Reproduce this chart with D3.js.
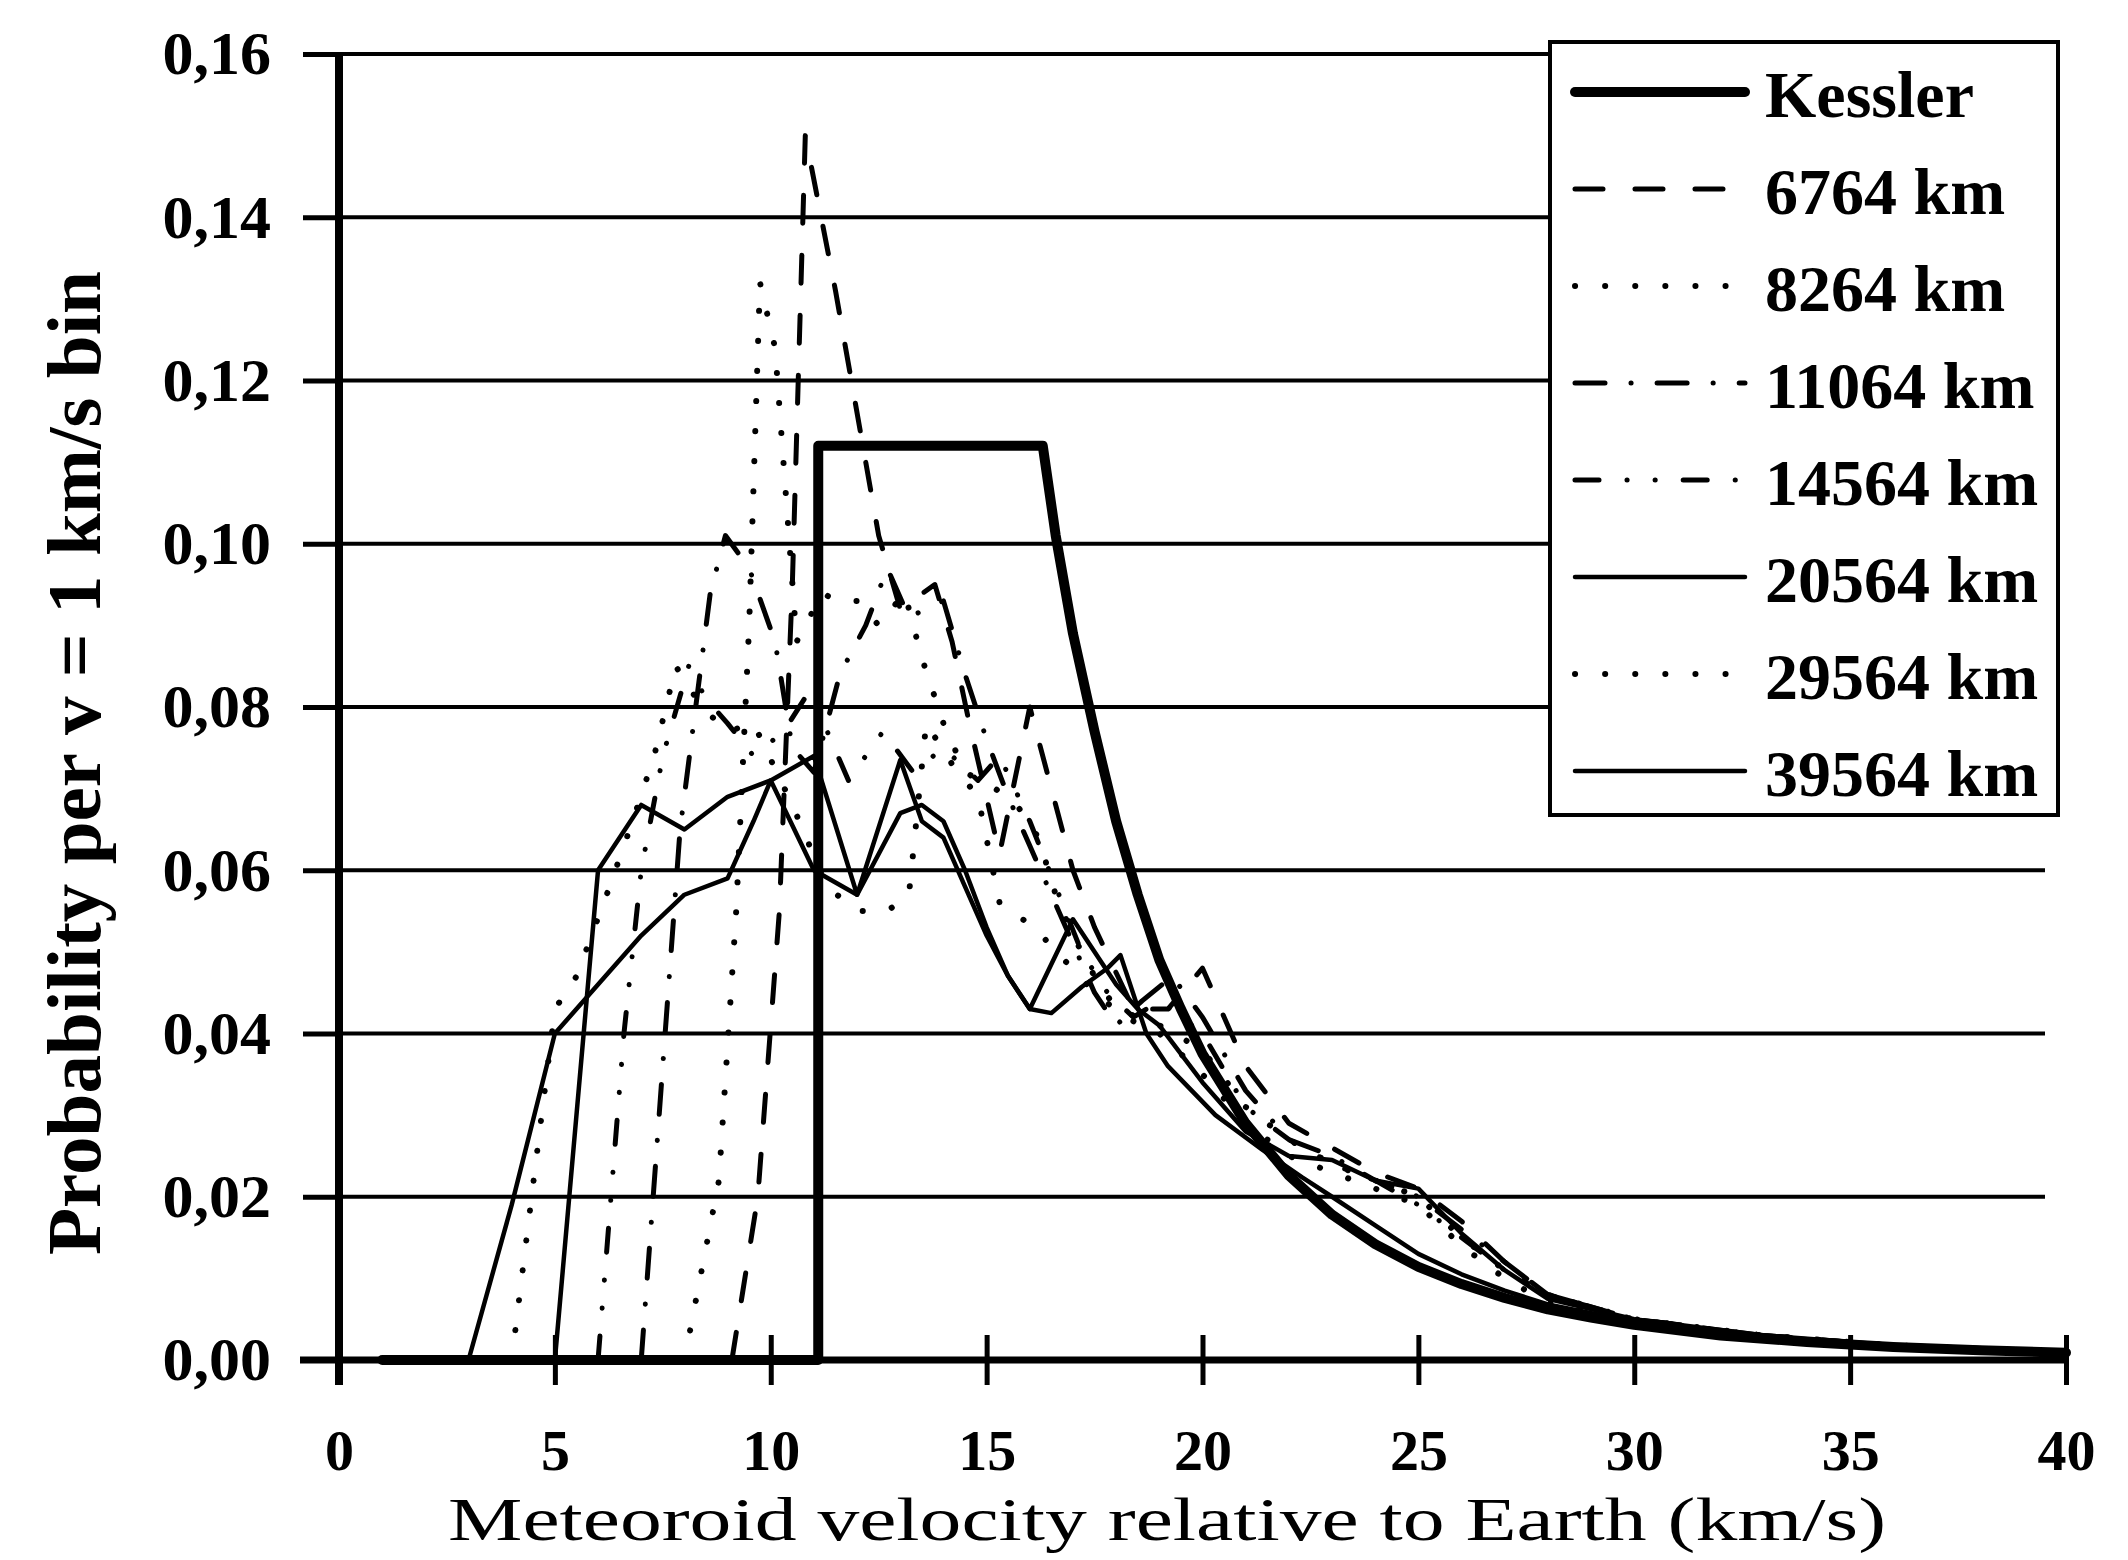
<!DOCTYPE html>
<html>
<head>
<meta charset="utf-8">
<script src="https://cdn.jsdelivr.net/npm/d3@7"></script>
<style>
  body { margin: 0; background: #fff; }
  svg { display: block; }
  text { font-family: "Liberation Serif", "Times New Roman", serif; fill: #000; }
</style>
</head>
<body>
<svg id="chart" width="2128" height="1560"></svg>
<script>
// axis ticks
const xTicks = [0, 5, 10, 15, 20, 25, 30, 35, 40];
const yTicks = [0, 0.02, 0.04, 0.06, 0.08, 0.10, 0.12, 0.14, 0.16];
const yTickLabels = ["0,00", "0,02", "0,04", "0,06", "0,08", "0,10", "0,12", "0,14", "0,16"];
const xTitle = "Meteoroid velocity relative to Earth (km/s)";
const yTitle = "Probability per v = 1 km/s bin";

// series (velocity km/s, probability)
const kesslerV = [1, 11.1, 11.1, 16.3, 16.6, 17, 17.5, 18, 18.5, 19, 19.5, 20, 21, 22, 23, 24, 25, 26, 27, 28, 29, 30, 32, 34, 36, 38, 40];
const kesslerP = [0, 0, 0.112, 0.112, 0.101, 0.089, 0.077, 0.066, 0.057, 0.049, 0.043, 0.0375, 0.029, 0.0226, 0.0178, 0.0142, 0.0114, 0.0093, 0.0076, 0.0062, 0.0052, 0.0043, 0.003, 0.0022, 0.0016, 0.0012, 0.0009];

const v6764 = [9.1, 9.7, 10.2, 10.5, 10.8, 11.5, 12.5, 13.0, 13.8, 14.2, 14.6, 15.3, 16.0, 17.0, 17.5, 18.4, 19.2, 20.0, 21.0, 22.0, 23.0, 24.0, 25.0, 26.0, 27.0, 28.0, 30.0, 33.0, 36.0, 40.0];
const p6764 = [0, 0.020, 0.055, 0.095, 0.150, 0.131, 0.101, 0.092, 0.095, 0.088, 0.078, 0.062, 0.080, 0.060, 0.053, 0.043, 0.043, 0.048, 0.036, 0.029, 0.026, 0.023, 0.021, 0.017, 0.012, 0.008, 0.005, 0.003, 0.0018, 0.001];

const v8264 = [8.0, 8.8, 9.2, 9.5, 9.75, 10.1, 10.6, 11.2, 11.5, 12.0, 12.5, 13.1, 13.5, 14.0, 14.5, 15.2, 15.7, 16.2, 16.6, 17.0, 17.5, 18.0, 19.0, 20.0, 21.0, 22.0, 23.0, 24.0, 25.0, 26.0, 27.0, 28.0, 30.0, 33.0, 36.0, 40.0];
const p8264 = [0, 0.022, 0.055, 0.090, 0.132, 0.124, 0.088, 0.094, 0.093, 0.093, 0.090, 0.094, 0.086, 0.078, 0.072, 0.070, 0.068, 0.064, 0.057, 0.052, 0.047, 0.043, 0.041, 0.038, 0.031, 0.027, 0.024, 0.022, 0.020, 0.015, 0.011, 0.008, 0.005, 0.003, 0.0018, 0.001];

const v11064 = [7.0, 7.9, 8.6, 8.95, 9.5, 10.1, 10.5, 11.0, 11.6, 12.2, 12.7, 13.2, 14.0, 14.5, 15.0, 15.5, 16.0, 16.5, 17.0, 17.5, 18.0, 18.6, 19.3, 20.0, 21.0, 22.0, 23.0, 24.0, 25.0, 26.0, 27.0, 28.0, 30.0, 33.0, 36.0, 40.0];
const p11064 = [0, 0.065, 0.094, 0.101, 0.097, 0.088, 0.075, 0.072, 0.084, 0.090, 0.097, 0.091, 0.093, 0.084, 0.076, 0.069, 0.063, 0.057, 0.051, 0.045, 0.041, 0.044, 0.047, 0.042, 0.033, 0.027, 0.025, 0.022, 0.020, 0.016, 0.012, 0.008, 0.005, 0.003, 0.0018, 0.001];

const v14564 = [6.0, 6.6, 7.0, 7.5, 8.1, 8.5, 9.0, 9.6, 10.3, 10.9, 11.8, 12.6, 13.3, 14.0, 14.8, 15.3, 16.0, 16.6, 17.2, 17.8, 18.4, 19.0, 20.0, 21.0, 22.0, 23.0, 24.0, 25.0, 26.0, 27.0, 28.0, 30.0, 33.0, 36.0, 40.0];
const p14564 = [0, 0.040, 0.060, 0.074, 0.085, 0.081, 0.078, 0.074, 0.077, 0.082, 0.071, 0.077, 0.072, 0.075, 0.071, 0.074, 0.066, 0.058, 0.050, 0.045, 0.042, 0.044, 0.040, 0.031, 0.027, 0.024, 0.022, 0.019, 0.015, 0.011, 0.008, 0.005, 0.003, 0.0018, 0.001];

const v20564 = [5, 6, 7, 8, 9, 10, 11, 12, 13, 13.5, 14, 14.5, 15, 15.5, 16, 17, 18, 18.5, 19, 20, 21, 22, 23, 24, 25, 26, 27, 28, 30, 33, 36, 40];
const p20564 = [0, 0.060, 0.068, 0.065, 0.069, 0.071, 0.074, 0.057, 0.067, 0.068, 0.066, 0.060, 0.053, 0.047, 0.043, 0.054, 0.046, 0.043, 0.041, 0.034, 0.028, 0.025, 0.0245, 0.022, 0.021, 0.0155, 0.011, 0.0075, 0.005, 0.003, 0.0018, 0.0011];

const v29564 = [4, 4.6, 5, 5.5, 6.2, 6.8, 7.3, 7.8, 8.4, 9.0, 9.6, 10.5, 11.3, 12.0, 12.7, 13.2, 13.6, 14.2, 14.8, 15.3, 16.1, 16.8, 17.5, 18.2, 19.0, 20.0, 21.0, 22.0, 23.0, 24.0, 25.0, 26.0, 27.0, 28.0, 30.0, 33.0, 36.0, 40.0];
const p29564 = [0, 0.026, 0.043, 0.047, 0.057, 0.066, 0.074, 0.085, 0.080, 0.077, 0.078, 0.068, 0.058, 0.055, 0.055, 0.057, 0.078, 0.073, 0.069, 0.056, 0.053, 0.049, 0.045, 0.042, 0.040, 0.035, 0.029, 0.025, 0.023, 0.021, 0.019, 0.014, 0.010, 0.007, 0.0046, 0.003, 0.0018, 0.001];

const v39564 = [3, 4, 5, 6, 7, 8, 9, 9.6, 10, 11, 12, 13, 13.5, 14, 14.5, 15, 15.5, 16, 16.5, 17.2, 17.8, 18.1, 18.7, 19.2, 20.3, 21.4, 22.3, 23, 24, 25, 26, 27, 28, 30, 32, 35, 40];
const p39564 = [0, 0.019, 0.040, 0.046, 0.052, 0.057, 0.059, 0.066, 0.071, 0.060, 0.057, 0.0735, 0.066, 0.064, 0.058, 0.052, 0.047, 0.043, 0.0425, 0.0457, 0.048, 0.0496, 0.040, 0.036, 0.030, 0.0257, 0.0224, 0.020, 0.0165, 0.013, 0.0105, 0.0085, 0.0068, 0.0047, 0.0033, 0.002, 0.0011];

const seriesNames = ["Kessler", "6764 km", "8264 km", "11064 km", "14564 km", "20564 km", "29564 km", "39564 km"];
const seriesV = [kesslerV, v6764, v8264, v11064, v14564, v20564, v29564, v39564];
const seriesP = [kesslerP, p6764, p8264, p11064, p14564, p20564, p29564, p39564];

// line look per series
const lineWidths = [10, 5, 6, 5, 5, 4.5, 6, 4.5];
const lineDashes = [null, "28,32", "0.1,30", "30,26,0.1,26", "24,28,0.1,28,0.1,28", null, "0.1,30", null];

const series = seriesNames.map((name, i) => ({
  name,
  values: seriesV[i].map((v, j) => ({ v, p: seriesP[i][j] })),
  width: lineWidths[i],
  dash: lineDashes[i]
}));

const svg = d3.select("#chart");
const x = d3.scaleLinear().domain([0, 40]).range([339, 2066]);
const y = d3.scaleLinear().domain([0, 0.16]).range([1360, 54]);

// horizontal grid
svg.append("g")
  .selectAll("line")
  .data(yTicks.slice(1))
  .join("line")
  .attr("x1", 339).attr("x2", 2045)
  .attr("y1", d => y(d)).attr("y2", d => y(d))
  .attr("stroke", "#000").attr("stroke-width", 4);

// data lines
const line = d3.line().x(d => x(d.v)).y(d => y(d.p));
svg.append("g")
  .selectAll("path")
  .data(series.slice().reverse())
  .join("path")
  .attr("d", d => line(d.values))
  .attr("fill", "none")
  .attr("stroke", "#000")
  .attr("stroke-width", d => d.width)
  .attr("stroke-dasharray", d => d.dash)
  .attr("stroke-linecap", "round")
  .attr("stroke-linejoin", "round");

// y axis
svg.append("g")
  .attr("transform", "translate(339,0)")
  .call(d3.axisLeft(y).tickValues(yTicks).tickFormat((d, i) => yTickLabels[i]).tickSize(36).tickPadding(32))
  .call(g => g.select(".domain").remove())
  .call(g => g.selectAll(".tick line").attr("stroke", "#000").attr("stroke-width", 5))
  .call(g => g.selectAll(".tick text").attr("font-size", 62).attr("font-weight", "bold"));

svg.append("line")
  .attr("x1", 339).attr("x2", 339)
  .attr("y1", y(0.16) - 2).attr("y2", 1385)
  .attr("stroke", "#000").attr("stroke-width", 8);

// x axis
svg.append("g")
  .attr("transform", "translate(0,1360)")
  .call(d3.axisBottom(x).tickValues(xTicks).tickSize(25).tickPadding(44))
  .call(g => g.select(".domain").remove())
  .call(g => g.selectAll(".tick line").attr("y1", -25).attr("y2", 25).attr("stroke", "#000").attr("stroke-width", 5))
  .call(g => g.selectAll(".tick text").attr("font-size", 58).attr("font-weight", "bold"));

svg.append("line")
  .attr("x1", 300).attr("x2", 2066)
  .attr("y1", 1360).attr("y2", 1360)
  .attr("stroke", "#000").attr("stroke-width", 7);

// titles
svg.append("text")
  .attr("x", 1167).attr("y", 1540)
  .attr("text-anchor", "middle")
  .attr("font-size", 62)
  .attr("textLength", 1438).attr("lengthAdjust", "spacingAndGlyphs")
  .text(xTitle);

svg.append("text")
  .attr("transform", "translate(100,763) rotate(-90)")
  .attr("text-anchor", "middle")
  .attr("font-size", 76).attr("font-weight", "bold")
  .attr("textLength", 984).attr("lengthAdjust", "spacingAndGlyphs")
  .text(yTitle);

// legend
const legend = svg.append("g");
legend.append("rect")
  .attr("x", 1550).attr("y", 42).attr("width", 508).attr("height", 773)
  .attr("fill", "#fff").attr("stroke", "#000").attr("stroke-width", 4);

const items = legend.selectAll("g.item")
  .data(series)
  .join("g")
  .attr("class", "item")
  .attr("transform", (d, i) => `translate(0,${117 + i * 97})`);

items.append("line")
  .attr("x1", 1575).attr("x2", 1745)
  .attr("y1", -25).attr("y2", -25)
  .attr("stroke", "#000")
  .attr("stroke-width", d => d.width)
  .attr("stroke-dasharray", d => d.dash)
  .attr("stroke-linecap", "round");

items.append("text")
  .attr("x", 1765).attr("y", 0)
  .attr("font-size", 66).attr("font-weight", "bold")
  .text(d => d.name);
</script>
</body>
</html>
